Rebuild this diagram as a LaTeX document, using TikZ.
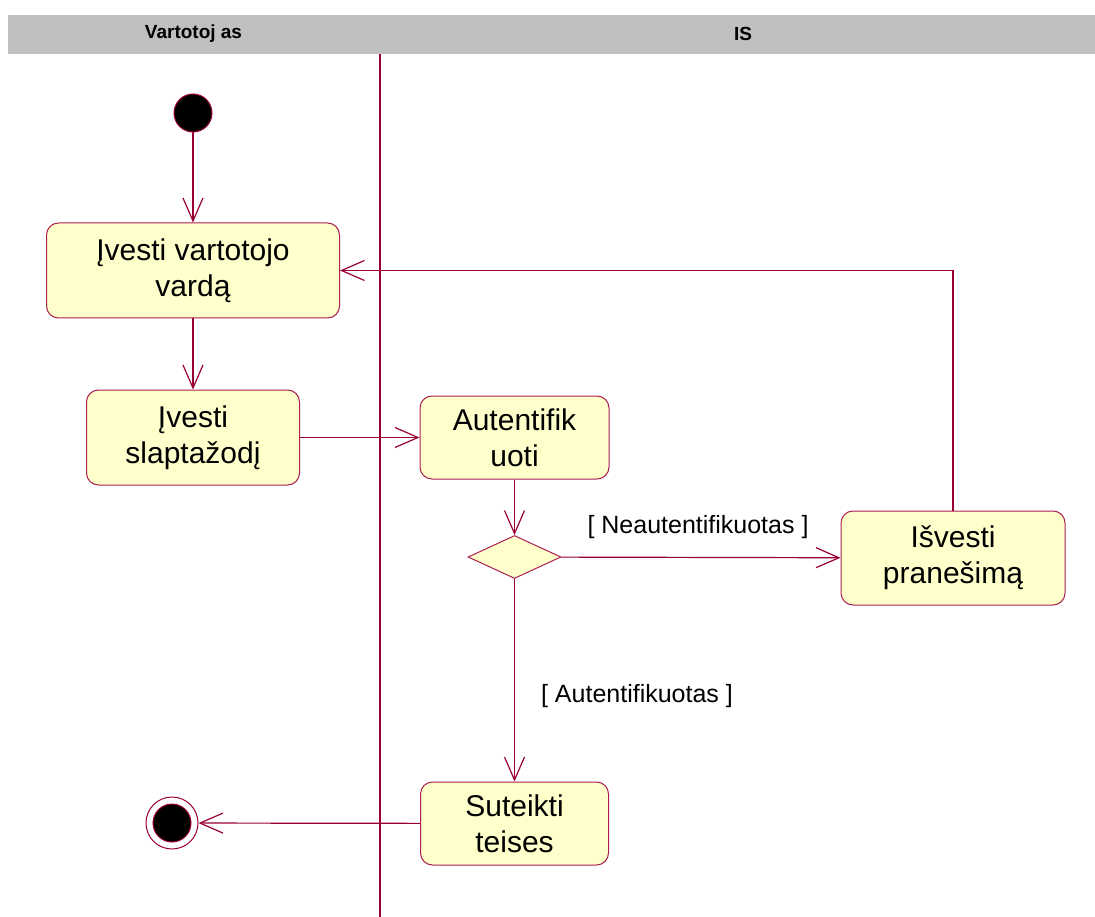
\documentclass[tikz,border=0pt]{standalone}
\usepackage{fontspec}
\setmainfont{Liberation Sans}
\usetikzlibrary{arrows.meta,shapes.geometric}
\definecolor{umlred}{RGB}{153,0,51}
\definecolor{umlborder}{RGB}{170,30,80}
\definecolor{actfill}{RGB}{255,255,204}
\definecolor{headgray}{RGB}{192,192,192}
\begin{document}
\begin{tikzpicture}[x=1pt,y=-1pt,
  activity/.style={draw=umlborder, fill=actfill, line width=1pt, rounded corners=12pt,
    align=center, inner sep=0pt, font=\fontsize{30}{36}\selectfont},
  flow/.style={draw=umlred, line width=1.2pt,
    -{Straight Barb[length=23pt,width=20pt,line width=1.2pt]}},
  guard/.style={font=\fontsize{25}{30}\selectfont, inner sep=0pt},
  lanehead/.style={font=\fontsize{19}{23}\selectfont\bfseries, inner sep=0pt},
  decision/.style={diamond, draw=umlborder, fill=actfill, line width=1pt,
    minimum width=93pt, minimum height=43pt, inner sep=0pt}]
\useasboundingbox (0,0) rectangle (1095,917);

% swimlane header and divider
\fill[headgray] (8,15) rectangle (1095,54);
\node[lanehead] (hv) at (193.5,34) {Vartotoj as};
\node[lanehead] (his) at (743,34) {IS};
\draw[umlred, line width=1.1pt] (380,54) -- (380,917);

% initial and final states
\node[circle, fill=black, draw=umlred, line width=1pt, minimum size=38pt, inner sep=0pt] (start) at (193,113) {};
\node[circle, fill=white, draw=umlred, line width=1pt, minimum size=52pt, inner sep=0pt] (fin) at (172,823) {};
\node[circle, fill=black, draw=umlred, line width=1pt, minimum size=38pt, inner sep=0pt] (fincore) at (172,823) {};

% activities
\node[activity, minimum width=293pt, minimum height=95pt] (a1) at (193,270.5) {Įvesti vartotojo\\vardą};
\node[activity, minimum width=213pt, minimum height=95pt] (a2) at (193,437.5) {Įvesti\\slaptažodį};
\node[activity, minimum width=189pt, minimum height=83pt] (a3) at (514.5,437.5) {Autentifik\\uoti};
\node[decision] (dec) at (514.5,557) {};
\node[activity, minimum width=224pt, minimum height=94pt] (a4) at (953,558) {Išvesti\\pranešimą};
\node[activity, minimum width=188pt, minimum height=83pt] (a5) at (514.5,823.5) {Suteikti\\teises};

% guard labels
\node[guard] (gneg) at (698,527) {[ Neautentifikuotas ]};
\node[guard] (gpos) at (637,696) {[ Autentifikuotas ]};

% transitions
\draw[flow] (start) -- (a1);
\draw[flow] (a1) -- (a2);
\draw[flow] (a2) -- (a3);
\draw[flow] (a3) -- (dec);
\draw[flow] (dec) -- (a4);
\draw[flow] (dec) -- (a5);
\draw[flow] (a5) -- (fin);
\draw[flow] (a4) |- (a1);
\end{tikzpicture}
\end{document}
